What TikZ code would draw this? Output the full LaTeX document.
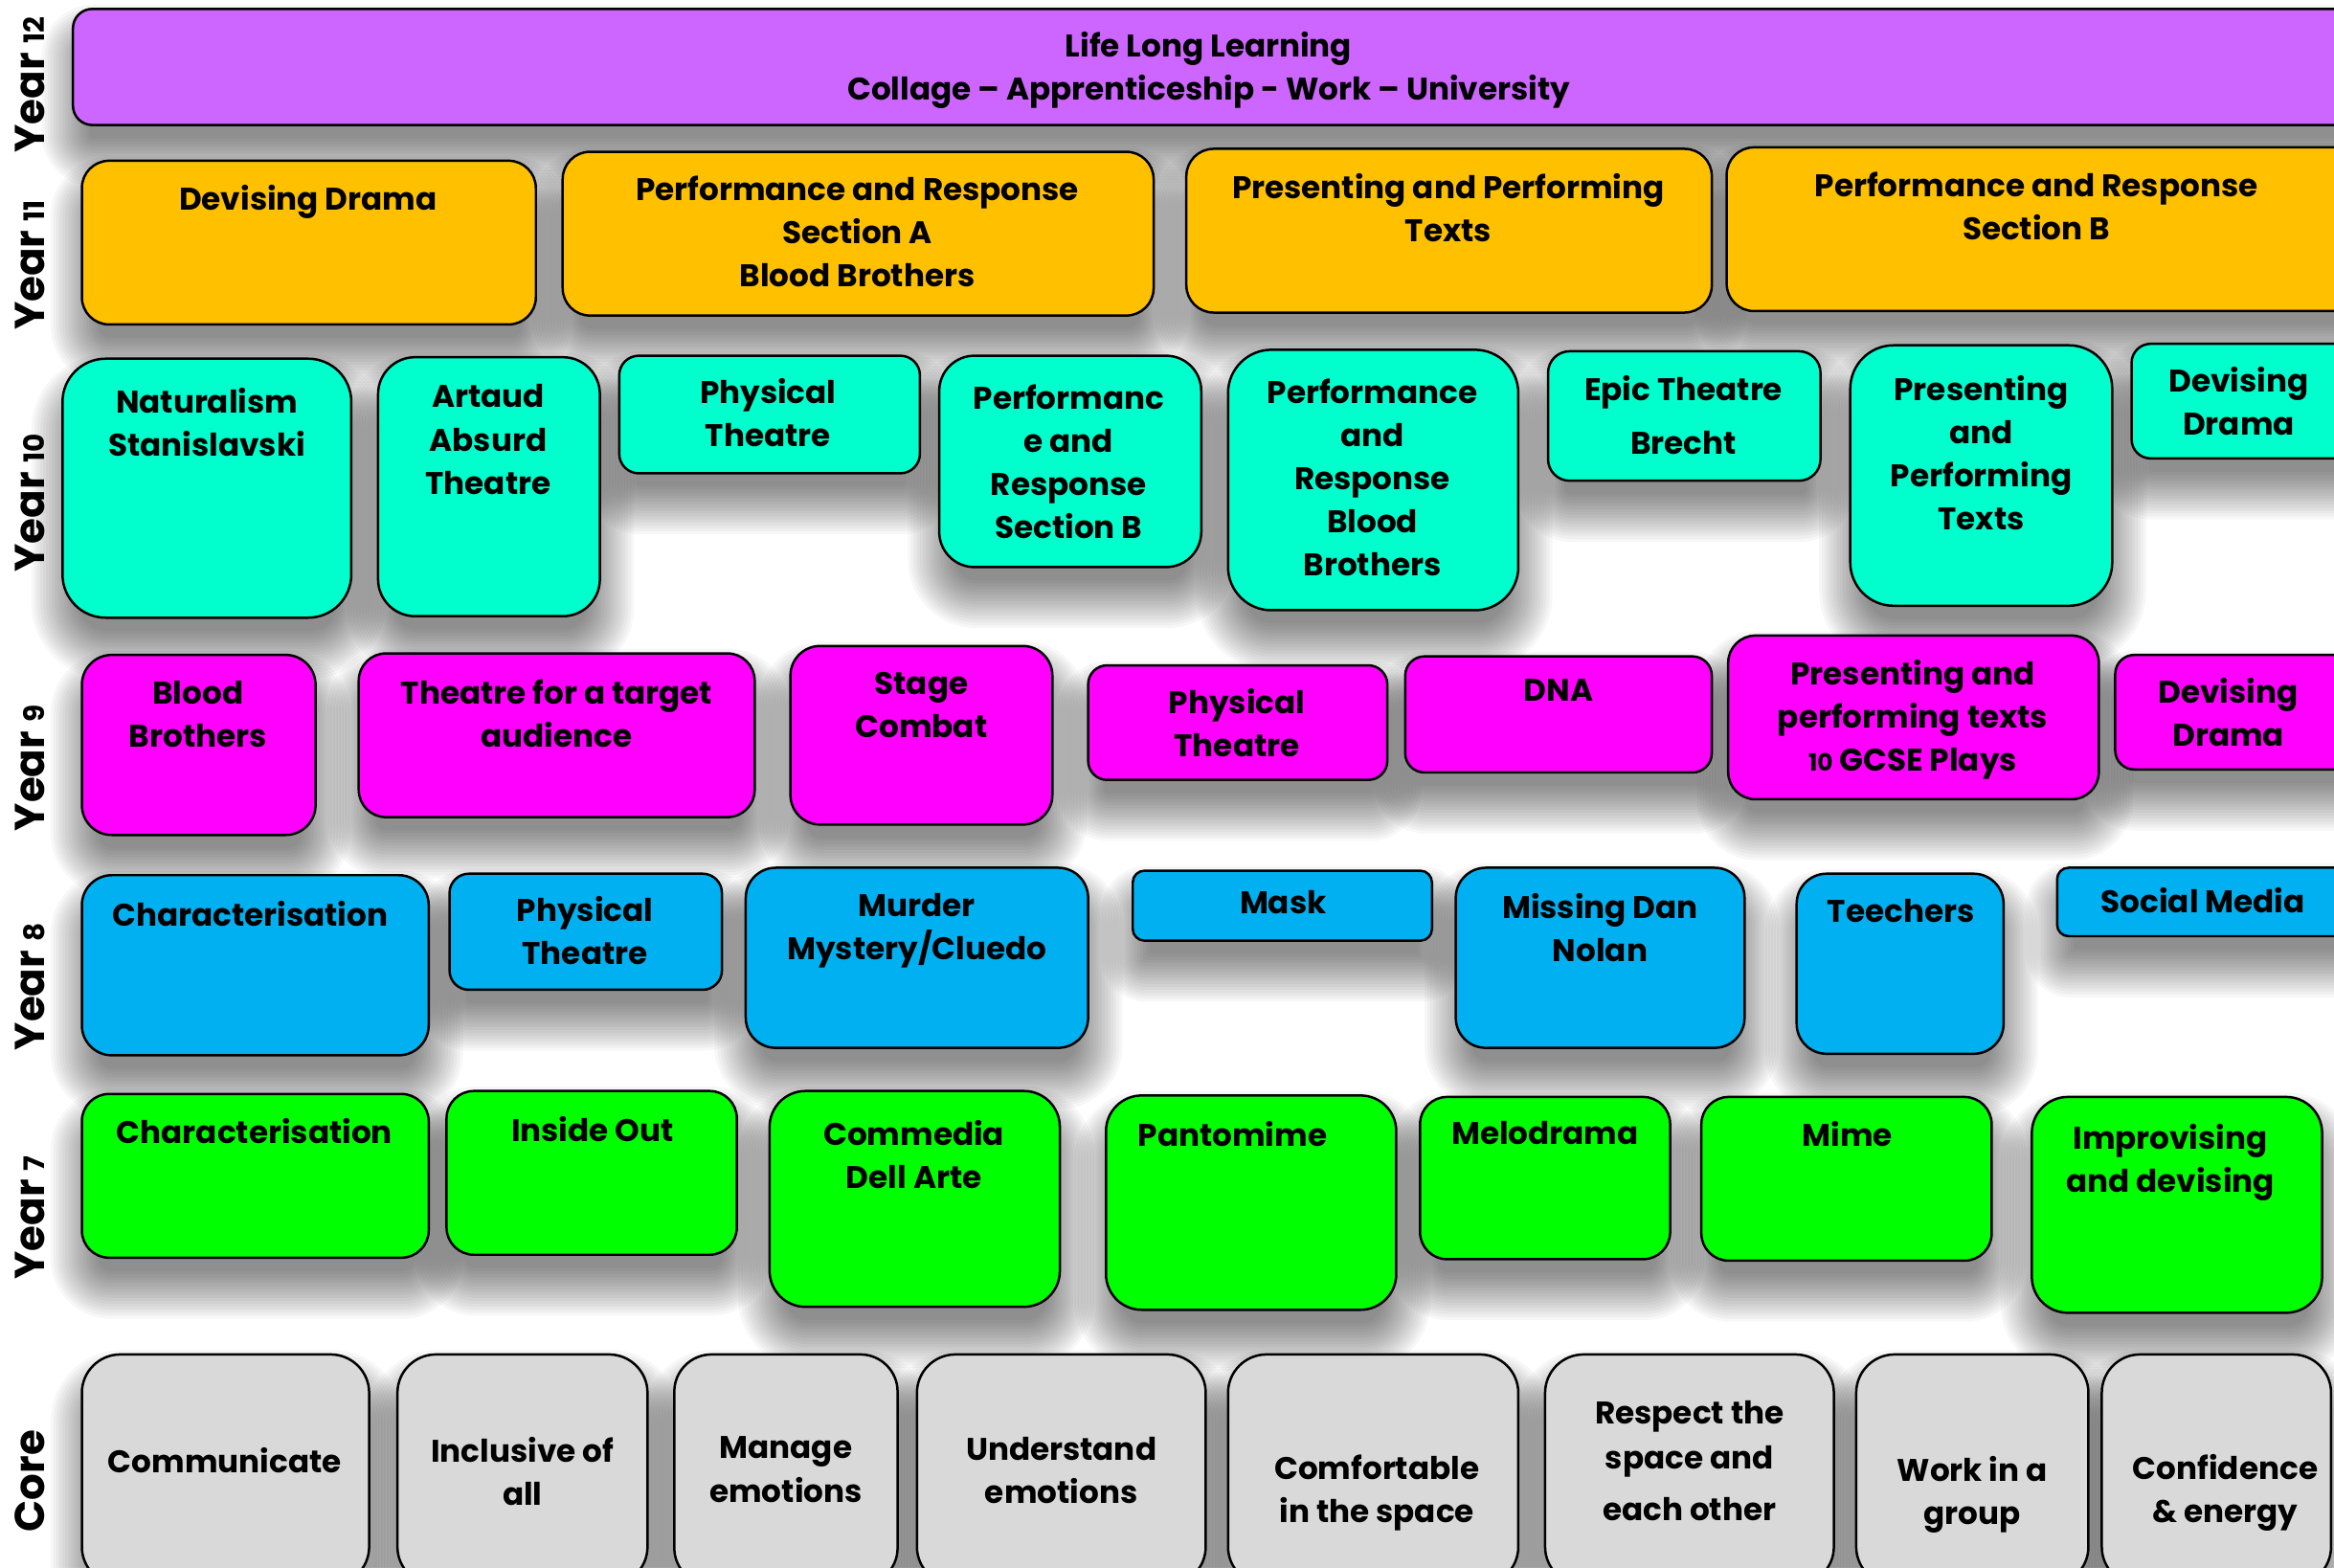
\documentclass[tikz,border=0pt]{standalone}
\usepackage{fontspec}
\setmainfont{Poppins}
\pgfdeclarelayer{back}
\pgfdeclarelayer{bg}
\pgfsetlayers{back,bg,main}
\definecolor{cXII}{HTML}{CC66FF}
\definecolor{cXI}{HTML}{FFC000}
\definecolor{cX}{HTML}{00FFCC}
\definecolor{cIX}{HTML}{FF00FF}
\definecolor{cVIII}{HTML}{00B0F0}
\definecolor{cVII}{HTML}{00FF00}
\definecolor{cCore}{HTML}{D9D9D9}
\tikzset{
  cbox/.style={draw=black, line width=0.8pt, inner sep=0pt, outer sep=0pt},
  shadelayer/.style={fill=black, fill opacity=0.03, draw=none},
  txt/.style={anchor=north, inner sep=0pt, align=center, font=\fontsize{10.5}{14.5}\selectfont\bfseries},
  ylab/.style={rotate=90, inner sep=0pt, font=\fontsize{14}{14}\selectfont\bfseries},
}
\newcommand\bx[6]{%
  \pgfmathsetmacro\rr{0.0833*min(#4-#2,#5-#3)}%
  \begin{pgfonlayer}{bg}
    \foreach \e in {22,20,...,-10} {
      \pgfmathsetmacro\re{max(\rr+(\e)*0.5,1)}
      \path[shadelayer, rounded corners=\re pt] ({#2-(\e)+1},{#3-(\e)+19}) rectangle ({#4+(\e)+1},{#5+(\e)+19});
    }
  \end{pgfonlayer}
  \node[cbox, fill=#6, rounded corners=\rr pt, minimum width={(#4-#2)*0.5pt}, minimum height={(#5-#3)*0.5pt}, anchor=north west] (#1) at (#2,#3) {};
}
\newcommand\smallnum[1]{{\fontsize{8}{8}\selectfont #1}}
\newcommand\ynum[1]{{\fontsize{9.5}{9.5}\selectfont #1}}
\begin{document}
\begin{tikzpicture}[x=0.5pt,y=-0.5pt]
\useasboundingbox (0,0) rectangle (1568,1053);
\begin{pgfonlayer}{back}
  \fill[white] (0,0) rectangle (1568,1053);
\end{pgfonlayer}

% year labels
\node[ylab] (y12) at (20,57) {Year \ynum{12}};
\node[ylab] (y11) at (20,178) {Year \ynum{11}};
\node[ylab] (y10) at (20,338) {Year \ynum{10}};
\node[ylab] (y9) at (20,516) {Year \ynum{9}};
\node[ylab] (y8) at (20,663) {Year \ynum{8}};
\node[ylab] (y7) at (20,818) {Year \ynum{7}};
\node[ylab] (yc) at (20,995) {Core};

% Year 12
\bx{l12}{49}{6}{1620}{84}{cXII}
\node[txt] (l12t) at (812,21) {Life Long Learning\\Collage – Apprenticeship - Work – University};

% Year 11
\bx{a1}{55}{108}{360}{218}{cXI}
\node[txt] (a1t) at (207,124) {Devising Drama};
\bx{a2}{378}{102}{775}{212}{cXI}
\node[txt] (a2t) at (576,118) {Performance and Response\\Section A\\Blood Brothers};
\bx{a3}{797}{100}{1150}{210}{cXI}
\node[txt] (a3t) at (973,116) {Presenting and Performing\\Texts};
\bx{a4}{1160}{99}{1620}{209}{cXI}
\node[txt] (a4t) at (1368,115) {Performance and Response\\Section B};

% Year 10
\bx{b1}{42}{241}{236}{415}{cX}
\node[txt] (b1t) at (139,260) {Naturalism\\Stanislavski};
\bx{b2}{254}{240}{403}{414}{cX}
\node[txt] (b2t) at (328,258) {Artaud\\Absurd\\Theatre};
\bx{b3}{416}{239}{618}{318}{cX}
\node[txt] (b3t) at (516,254) {Physical\\Theatre};
\bx{b4}{631}{239}{807}{381}{cX}
\node[txt] (b4t) at (718,258) {Performanc\\e and\\Response\\Section B};
\bx{b5}{825}{235}{1020}{410}{cX}
\node[txt] (b5t) at (922,254) {Performance\\and\\Response\\Blood\\Brothers};
\bx{b6}{1040}{236}{1223}{323}{cX}
\node[txt] (b6t) at (1131,252) {Epic Theatre\\[3.5pt]Brecht};
\bx{b7}{1243}{232}{1419}{407}{cX}
\node[txt] (b7t) at (1331,252) {Presenting\\and\\Performing\\Texts};
\bx{b8}{1432}{231}{1620}{308}{cX}
\node[txt] (b8t) at (1504,246) {Devising\\Drama};

% Year 9
\bx{c1}{55}{440}{212}{561}{cIX}
\node[txt] (c1t) at (133,457) {Blood\\Brothers};
\bx{c2}{241}{439}{507}{549}{cIX}
\node[txt] (c2t) at (374,456) {Theatre for a target\\audience};
\bx{c3}{531}{434}{707}{554}{cIX}
\node[txt] (c3t) at (619,451) {Stage\\Combat};
\bx{c4}{731}{447}{932}{524}{cIX}
\node[txt] (c4t) at (831,462) {Physical\\Theatre};
\bx{c5}{944}{441}{1150}{519}{cIX}
\node[txt] (c5t) at (1047,456) {DNA};
\bx{c6}{1161}{427}{1410}{537}{cIX}
\node[txt] (c6t) at (1285,443) {Presenting and\\performing texts\\\smallnum{10} GCSE Plays};
\bx{c7}{1421}{440}{1620}{517}{cIX}
\node[txt] (c7t) at (1497,455) {Devising\\Drama};

% Year 8
\bx{d1}{55}{588}{288}{709}{cVIII}
\node[txt] (d1t) at (168,605) {Characterisation};
\bx{d2}{302}{587}{485}{665}{cVIII}
\node[txt] (d2t) at (393,602) {Physical\\Theatre};
\bx{d3}{501}{583}{731}{704}{cVIII}
\node[txt] (d3t) at (616,600) {Murder\\Mystery/Cluedo};
\bx{d4}{761}{585}{962}{632}{cVIII}
\node[txt] (d4t) at (862,598) {Mask};
\bx{d5}{978}{583}{1172}{704}{cVIII}
\node[txt] (d5t) at (1075,600) {Missing Dan\\Nolan};
\bx{d6}{1207}{587}{1346}{708}{cVIII}
\node[txt] (d6t) at (1277,604) {Teechers};
\bx{d7}{1382}{583}{1620}{629}{cVIII}
\node[txt] (d7t) at (1480,596) {Social Media};

% Year 7
\bx{e1}{55}{735}{288}{845}{cVII}
\node[txt] (e1t) at (171,751) {Characterisation};
\bx{e2}{300}{733}{495}{843}{cVII}
\node[txt] (e2t) at (398,750) {Inside Out};
\bx{e3}{517}{733}{712}{878}{cVII}
\node[txt] (e3t) at (614,752) {Commedia\\Dell Arte};
\bx{e4}{743}{736}{938}{880}{cVII}
\node[txt] (e4t) at (828,753) {Pantomime};
\bx{e5}{954}{737}{1122}{846}{cVII}
\node[txt] (e5t) at (1038,753) {Melodrama};
\bx{e6}{1143}{737}{1338}{847}{cVII}
\node[txt] (e6t) at (1241,753) {Mime};
\bx{e7}{1365}{737}{1560}{882}{cVII}
\node[txt] (e7t) at (1458,755) {Improvising\\and devising};

% Core
\bx{f1}{55}{910}{248}{1065}{cCore}
\node[txt] (f1t) at (151,972) {Communicate};
\bx{f2}{267}{910}{435}{1065}{cCore}
\node[txt] (f2t) at (351,965) {Inclusive of\\all};
\bx{f3}{453}{910}{603}{1065}{cCore}
\node[txt] (f3t) at (528,965) {Manage\\emotions};
\bx{f4}{616}{910}{810}{1065}{cCore}
\node[txt] (f4t) at (713,965) {Understand\\emotions};
\bx{f5}{825}{910}{1020}{1065}{cCore}
\node[txt] (f5t) at (925,977) {Comfortable\\in the space};
\bx{f6}{1038}{910}{1232}{1065}{cCore}
\node[txt] (f6t) at (1135,941) {Respect the\\[0.5pt]space and\\[3pt]each other};
\bx{f7}{1247}{910}{1403}{1065}{cCore}
\node[txt] (f7t) at (1325,978) {Work in a\\group};
\bx{f8}{1412}{910}{1566}{1065}{cCore}
\node[txt] (f8t) at (1495,977) {Confidence\\\& energy};
\end{tikzpicture}
\end{document}
